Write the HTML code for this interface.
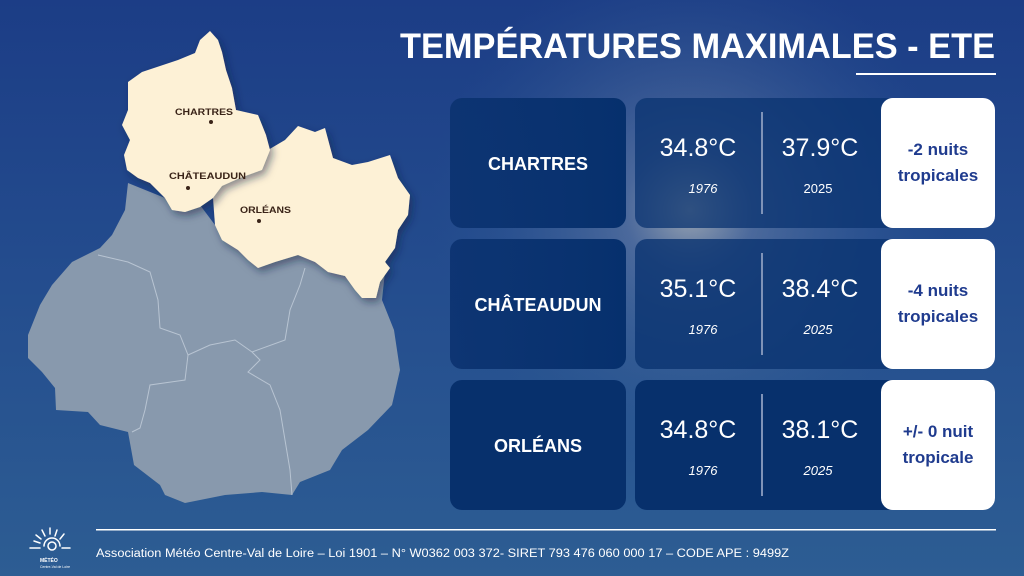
<!DOCTYPE html>
<html><head><meta charset="utf-8"><style>
html,body{margin:0;padding:0;width:1024px;height:576px;overflow:hidden;background:#24498a}
svg{display:block}
text{font-family:"Liberation Sans",sans-serif}
</style></head><body>
<svg width="1024" height="576" viewBox="0 0 1024 576" xmlns="http://www.w3.org/2000/svg">
<defs>
<linearGradient id="bg" x1="0" y1="0" x2="0" y2="1">
<stop offset="0" stop-color="#1c3d86"/><stop offset="0.5" stop-color="#244d8e"/><stop offset="1" stop-color="#2d5d93"/>
</linearGradient>
<radialGradient id="glow" cx="690" cy="210" r="260" gradientUnits="userSpaceOnUse">
<stop offset="0" stop-color="#c8c8c0" stop-opacity="0.75"/><stop offset="0.25" stop-color="#7d8fae" stop-opacity="0.45"/><stop offset="1" stop-color="#2d5d93" stop-opacity="0"/>
</radialGradient>
<linearGradient id="card" x1="0" y1="0" x2="1" y2="0">
<stop offset="0" stop-color="#0b3270" stop-opacity="0.9"/><stop offset="1" stop-color="#06306d"/>
</linearGradient>
<filter id="sh" x="-10%" y="-10%" width="130%" height="130%"><feDropShadow dx="3" dy="4" stdDeviation="4" flood-color="#0a1d40" flood-opacity="0.5"/></filter>
</defs>
<rect width="1024" height="576" fill="url(#bg)"/>
<rect width="1024" height="576" fill="url(#glow)"/>

<!-- map gray -->
<path d="M128,183 L125,210 L112,235 L100,248 L72,262 L52,285 L40,305 L28,335 L28,358 L42,372 L55,388 L56,410 L88,412 L100,425 L128,432 L134,465 L160,485 L165,495 L185,503 L225,495 L262,492 L292,495 L300,482 L330,470 L342,450 L368,430 L392,405 L400,370 L394,330 L382,300 L386,262 L300,250 L215,225 L200,205 L170,200 Z" fill="#8899ad"/>
<g fill="none" stroke="#b8c4d2" stroke-width="1">
<path d="M98,255 L128,262 L150,272 L158,300 L160,328 L180,335 L188,355 L185,380 L150,385 L145,410 L140,428 L132,432"/>
<path d="M188,355 L210,345 L235,340 L252,352 L260,360 L248,372 L270,385 L280,410 L285,440 L290,470 L292,495"/>
<path d="M252,352 L285,340 L290,310 L300,285 L305,268"/>
</g>
<!-- Loiret -->
<path d="M268,150 L285,140 L298,126 L315,132 L325,128 L333,158 L352,165 L368,162 L390,155 L398,178 L410,195 L408,215 L398,230 L395,248 L385,262 L390,268 L380,282 L376,298 L362,298 L355,290 L345,276 L328,272 L315,262 L298,255 L275,262 L258,268 L248,260 L238,250 L222,240 L215,225 L213,198 L222,186 L240,178 L262,170 Z" fill="#fdf1d6" filter="url(#sh)"/>
<!-- Eure-et-Loir -->
<path d="M210,31 L218,40 L222,52 L226,70 L232,88 L236,110 L258,115 L266,135 L270,150 L262,170 L240,178 L222,186 L213,198 L200,207 L185,212 L172,210 L165,198 L150,183 L138,178 L127,170 L124,155 L130,140 L122,125 L128,110 L128,82 L142,72 L160,66 L178,60 L195,53 L200,40 Z" fill="#fdf1d6" filter="url(#sh)"/>
<g fill="#3a2418" font-size="9.5" font-weight="bold">
<text x="175" y="115" textLength="58" lengthAdjust="spacingAndGlyphs">CHARTRES</text>
<circle cx="211" cy="122" r="2"/>
<text x="169" y="179" textLength="77" lengthAdjust="spacingAndGlyphs">CHÂTEAUDUN</text>
<circle cx="188" cy="188" r="2"/>
<text x="240" y="213" textLength="51" lengthAdjust="spacingAndGlyphs">ORLÉANS</text>
<circle cx="259" cy="221" r="2"/>
</g>

<!-- title -->
<text x="400" y="58" fill="#fff" font-size="35" font-weight="bold" textLength="595" lengthAdjust="spacingAndGlyphs">TEMPÉRATURES MAXIMALES - ETE</text>
<rect x="856" y="73" width="140" height="2" fill="#fff"/>

<!-- rows -->
<g>
<g transform="translate(0,98)">
<rect x="450" y="0" width="176" height="130" rx="12" fill="url(#card)"/>
<rect x="635" y="0" width="360" height="130" rx="12" fill="#0a3370" fill-opacity="0.75"/>
<rect x="761" y="14" width="2" height="102" fill="#7f93b8"/>
<rect x="881" y="0" width="114" height="130" rx="12" fill="#fff"/>
<text x="538" y="72" text-anchor="middle" fill="#fff" font-size="18" font-weight="bold">CHARTRES</text>
<text x="698" y="58" text-anchor="middle" fill="#fff" font-size="25">34.8°C</text>
<text x="820" y="58" text-anchor="middle" fill="#fff" font-size="25">37.9°C</text>
<text x="703" y="95" text-anchor="middle" fill="#fff" font-size="13" font-style="italic">1976</text>
<text x="818" y="95" text-anchor="middle" fill="#fff" font-size="13">2025</text>
<text x="938" y="57" text-anchor="middle" fill="#1f3b8e" font-size="17" font-weight="bold">-2 nuits</text>
<text x="938" y="83" text-anchor="middle" fill="#1f3b8e" font-size="17" font-weight="bold">tropicales</text>
</g>
<g transform="translate(0,239)">
<rect x="450" y="0" width="176" height="130" rx="12" fill="url(#card)"/>
<rect x="635" y="0" width="360" height="130" rx="12" fill="#0a3370" fill-opacity="0.8"/>
<rect x="761" y="14" width="2" height="102" fill="#7f93b8"/>
<rect x="881" y="0" width="114" height="130" rx="12" fill="#fff"/>
<text x="538" y="72" text-anchor="middle" fill="#fff" font-size="18" font-weight="bold">CHÂTEAUDUN</text>
<text x="698" y="58" text-anchor="middle" fill="#fff" font-size="25">35.1°C</text>
<text x="820" y="58" text-anchor="middle" fill="#fff" font-size="25">38.4°C</text>
<text x="703" y="95" text-anchor="middle" fill="#fff" font-size="13" font-style="italic">1976</text>
<text x="818" y="95" text-anchor="middle" fill="#fff" font-size="13" font-style="italic">2025</text>
<text x="938" y="57" text-anchor="middle" fill="#1f3b8e" font-size="17" font-weight="bold">-4 nuits</text>
<text x="938" y="83" text-anchor="middle" fill="#1f3b8e" font-size="17" font-weight="bold">tropicales</text>
</g>
<g transform="translate(0,380)">
<rect x="450" y="0" width="176" height="130" rx="12" fill="#07306c"/>
<rect x="635" y="0" width="360" height="130" rx="12" fill="#07306c"/>
<rect x="761" y="14" width="2" height="102" fill="#7f93b8"/>
<rect x="881" y="0" width="114" height="130" rx="12" fill="#fff"/>
<text x="538" y="72" text-anchor="middle" fill="#fff" font-size="18" font-weight="bold">ORLÉANS</text>
<text x="698" y="58" text-anchor="middle" fill="#fff" font-size="25">34.8°C</text>
<text x="820" y="58" text-anchor="middle" fill="#fff" font-size="25">38.1°C</text>
<text x="703" y="95" text-anchor="middle" fill="#fff" font-size="13" font-style="italic">1976</text>
<text x="818" y="95" text-anchor="middle" fill="#fff" font-size="13" font-style="italic">2025</text>
<text x="938" y="57" text-anchor="middle" fill="#1f3b8e" font-size="17" font-weight="bold">+/- 0 nuit</text>
<text x="938" y="83" text-anchor="middle" fill="#1f3b8e" font-size="17" font-weight="bold">tropicale</text>
</g>
</g>

<!-- footer -->
<rect x="96" y="529" width="900" height="1.5" fill="#fff"/>
<text x="96" y="557" fill="#fff" font-size="11.5" textLength="693" lengthAdjust="spacingAndGlyphs">Association Météo Centre-Val de Loire – Loi 1901 – N° W0362 003 372- SIRET 793 476 060 000 17 – CODE APE : 9499Z</text>
<g stroke="#fff" stroke-width="1.5" fill="none" stroke-linecap="round">
<circle cx="52" cy="546" r="4"/>
<path d="M44,546 A8,8 0 1,1 60,546"/>
<path d="M34,541 L40,543 M36,535 L41,539 M42,530 L45,536 M50,528 L50,534 M57,530 L55,536 M64,534 L60,539 M30,548 L40,548 M62,548 L70,548"/>
</g>
<text x="40" y="562" fill="#fff" font-size="5" font-weight="bold">MÉTÉO</text>
<text x="40" y="568" fill="#fff" font-size="3.5">Centre-Val de Loire</text>
</svg>
</body></html>
